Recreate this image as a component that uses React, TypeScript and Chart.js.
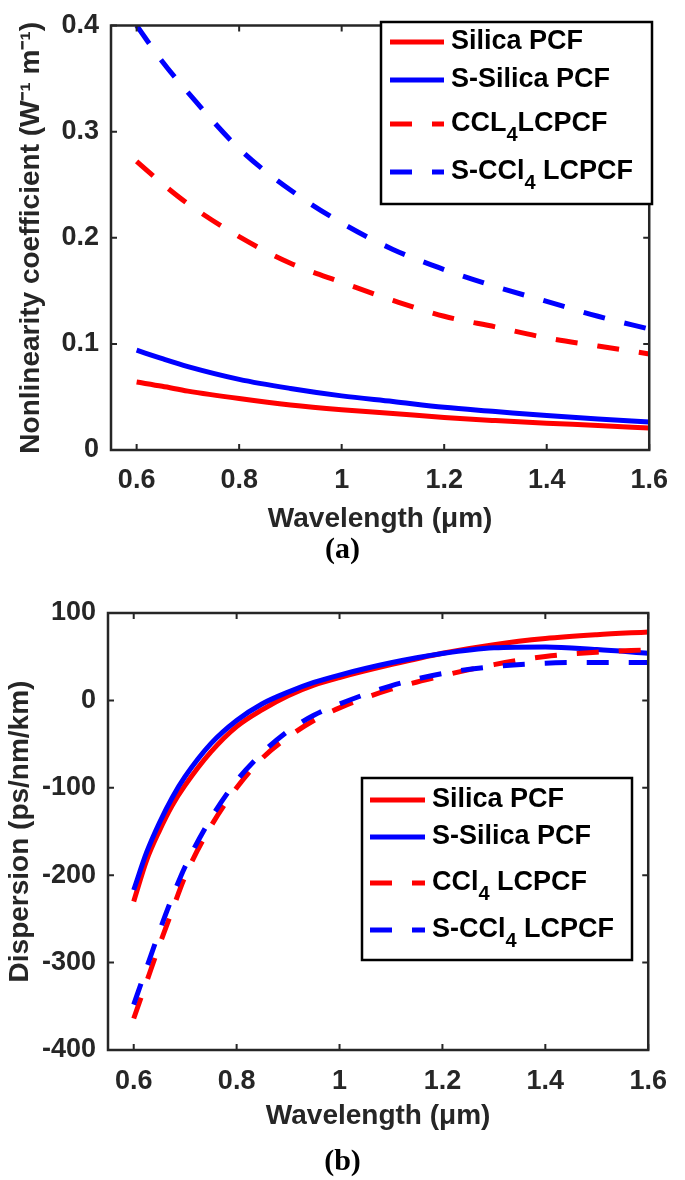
import React, { useEffect, useRef } from "react";
import { Chart, registerables } from "chart.js";

Chart.register(...registerables);

// ---------------- Data: panel (a) nonlinearity coefficient ----------------
const NL_WAVELENGTH = [0.6, 0.65, 0.7, 0.8, 0.9, 1.0, 1.1, 1.2, 1.3, 1.4, 1.5, 1.6];
const NL_SILICA = [0.064, 0.06, 0.0555, 0.0485, 0.0425, 0.038, 0.0344, 0.0306, 0.0277, 0.0252, 0.0232, 0.0207];
const NL_S_SILICA = [0.094, 0.086, 0.0786, 0.0666, 0.058, 0.051, 0.0457, 0.0402, 0.0363, 0.0324, 0.0293, 0.0263];
const NL_CCL4 = [0.272, 0.251, 0.232, 0.201, 0.176, 0.158, 0.141, 0.126, 0.116, 0.1056, 0.098, 0.0905];
const NL_S_CCL4 = [0.4, 0.366, 0.337, 0.284, 0.245, 0.214, 0.189, 0.17, 0.154, 0.14, 0.126, 0.114];
const NL_LABELS = ["Silica PCF", "S-Silica PCF", "CCL₄LCPCF", "S-CCl₄ LCPCF"];
const NL_Y_TICKS = [0, 0.1, 0.2, 0.3, 0.4];
const NL_Y_TICK_LABELS = ["0", "0.1", "0.2", "0.3", "0.4"];

// ---------------- Data: panel (b) dispersion ----------------
const D_WAVELENGTH = [0.6, 0.625, 0.65, 0.675, 0.7, 0.75, 0.8, 0.85, 0.9, 0.95, 1.0, 1.1, 1.2, 1.3, 1.4, 1.5, 1.6];
const D_SILICA = [-230, -183, -149, -120, -97, -59, -30, -10.5, 5.4, 17.5, 26.2, 40.9, 54, 63.8, 70.7, 75.1, 78.3];
const D_S_SILICA = [-217, -174, -140, -111, -87, -49.5, -23, -3.8, 9.5, 20.5, 29, 43, 53.6, 60.2, 61.2, 58.2, 54];
const D_CCL4 = [-364, -322, -280, -240, -201, -144, -100, -66, -42, -23, -8.6, 12.8, 28.2, 40.9, 50.3, 55.2, 57.9];
const D_S_CCL4 = [-348, -306, -264, -225, -190, -135, -92, -60, -35, -17, -4.1, 16.7, 30.8, 38.8, 42.6, 43.4, 43.4];
const D_LABELS = ["Silica PCF", "S-Silica PCF", "CCl₄ LCPCF", "S-CCl₄ LCPCF"];
const D_Y_TICKS = [-400, -300, -200, -100, 0, 100];
const D_Y_TICK_LABELS = ["-400", "-300", "-200", "-100", "0", "100"];

// ---------------- Shared axis ticks ----------------
const X_TICKS = [0.6, 0.8, 1.0, 1.2, 1.4, 1.6];
const X_TICK_LABELS = ["0.6", "0.8", "1", "1.2", "1.4", "1.6"];

const FONT = '"Liberation Sans", Arial, Helvetica, sans-serif';
const AXIS_COLOR = "#262626";
const RED = "#ff0000";
const BLUE = "#0000ff";
const DASH = [22, 20];

const framePlugin = {
  id: "matlabFrame",
  afterDatasetsDraw(chart: any) {
    const { ctx, chartArea } = chart;
    const { left, right, top, bottom } = chartArea;
    const xs = chart.scales.x;
    const ys = chart.scales.y;
    const tl = 6;
    ctx.save();
    ctx.strokeStyle = AXIS_COLOR;
    ctx.lineWidth = 2;
    ctx.beginPath();
    xs.ticks.forEach((t: any) => {
      const p = xs.getPixelForValue(t.value);
      ctx.moveTo(p, bottom);
      ctx.lineTo(p, bottom - tl);
      ctx.moveTo(p, top);
      ctx.lineTo(p, top + tl);
    });
    ys.ticks.forEach((t: any) => {
      const p = ys.getPixelForValue(t.value);
      ctx.moveTo(left, p);
      ctx.lineTo(left + tl, p);
      ctx.moveTo(right, p);
      ctx.lineTo(right - tl, p);
    });
    ctx.stroke();
    ctx.lineWidth = 2.5;
    ctx.strokeRect(left, top, right - left, bottom - top);
    ctx.restore();
  },
};

function drawRichLabel(ctx: CanvasRenderingContext2D, text: string, x: number, y: number) {
  const main = `bold 27px ${FONT}`;
  const sub = `bold 20px ${FONT}`;
  const parts = text.split("₄");
  let cx = x;
  parts.forEach((p, i) => {
    ctx.font = main;
    ctx.fillText(p, cx, y);
    cx += ctx.measureText(p).width;
    if (i < parts.length - 1) {
      ctx.font = sub;
      ctx.fillText("4", cx, y + 11);
      cx += ctx.measureText("4").width;
    }
  });
}

const boxLegendPlugin = {
  id: "boxLegend",
  afterDraw(chart: any, _args: any, opts: any) {
    const { ctx } = chart;
    const { left, top, right, bottom, rows, x1, x2, textX } = opts;
    ctx.save();
    ctx.fillStyle = "#ffffff";
    ctx.fillRect(left, top, right - left, bottom - top);
    ctx.strokeStyle = "#000000";
    ctx.lineWidth = 2.5;
    ctx.strokeRect(left, top, right - left, bottom - top);
    chart.data.datasets.forEach((ds: any, i: number) => {
      const y = rows[i];
      ctx.strokeStyle = ds.borderColor;
      ctx.lineWidth = ds.borderWidth;
      ctx.lineCap = "butt";
      ctx.setLineDash(ds.borderDash || []);
      ctx.beginPath();
      ctx.moveTo(x1, y);
      ctx.lineTo(x2, y);
      ctx.stroke();
      ctx.setLineDash([]);
      ctx.fillStyle = "#000000";
      ctx.textAlign = "left";
      ctx.textBaseline = "middle";
      drawRichLabel(ctx, ds.label, textX, y);
    });
    ctx.restore();
  },
};

type Series = { label: string; values: number[]; color: string; dashed: boolean };

function makeConfig(p: {
  x: number[];
  series: Series[];
  yMin: number;
  yMax: number;
  yTicks: number[];
  yTickLabels: string[];
  yTitle: string;
  yTitlePad: number;
  padding: any;
  xHeight: number;
  yWidth: number;
  xTickPad: number;
  legend: any;
}): any {
  const tickFont = { family: FONT, size: 27, weight: "bold" as const, lineHeight: 1 };
  const titleFont = { family: FONT, size: 28, weight: "bold" as const };
  return {
    type: "line",
    data: {
      datasets: p.series.map((s, i) => ({
        label: s.label,
        data: p.x.map((xv, j) => ({ x: xv, y: s.values[j] })),
        borderColor: s.color,
        backgroundColor: s.color,
        borderWidth: 5,
        borderDash: s.dashed ? DASH : [],
        borderCapStyle: "butt",
        pointRadius: 0,
        fill: false,
        cubicInterpolationMode: "monotone",
        order: p.series.length - i,
      })),
    },
    options: {
      responsive: false,
      animation: false,
      layout: { padding: p.padding },
      plugins: {
        legend: { display: false },
        tooltip: { enabled: false },
        boxLegend: p.legend,
      },
      scales: {
        x: {
          type: "linear",
          min: 0.55,
          max: 1.6,
          afterBuildTicks: (s: any) => {
            s.ticks = X_TICKS.map((v) => ({ value: v }));
          },
          afterFit: (s: any) => {
            s.height = p.xHeight;
          },
          grid: { display: false, drawTicks: false },
          border: { display: false },
          ticks: {
            autoSkip: false,
            maxRotation: 0,
            padding: p.xTickPad,
            color: AXIS_COLOR,
            font: tickFont,
            callback: (_v: any, i: number) => X_TICK_LABELS[i],
          },
          title: {
            display: true,
            text: "Wavelength (μm)",
            color: AXIS_COLOR,
            font: titleFont,
            padding: { top: 0, bottom: 0 },
          },
        },
        y: {
          type: "linear",
          min: p.yMin,
          max: p.yMax,
          afterBuildTicks: (s: any) => {
            s.ticks = p.yTicks.map((v) => ({ value: v }));
          },
          afterFit: (s: any) => {
            s.width = p.yWidth;
          },
          grid: { display: false, drawTicks: false },
          border: { display: false },
          ticks: {
            autoSkip: false,
            padding: 12,
            color: AXIS_COLOR,
            font: tickFont,
            callback: (_v: any, i: number) => p.yTickLabels[i],
          },
          title: {
            display: true,
            text: p.yTitle,
            color: AXIS_COLOR,
            font: titleFont,
            padding: { top: p.yTitlePad, bottom: 0 },
          },
        },
      },
    },
    plugins: [framePlugin, boxLegendPlugin],
  };
}

export default function App() {
  const refA = useRef<HTMLCanvasElement | null>(null);
  const refB = useRef<HTMLCanvasElement | null>(null);

  useEffect(() => {
    const chartA = new Chart(
      refA.current as HTMLCanvasElement,
      makeConfig({
        x: NL_WAVELENGTH,
        series: [
          { label: NL_LABELS[0], values: NL_SILICA, color: RED, dashed: false },
          { label: NL_LABELS[1], values: NL_S_SILICA, color: BLUE, dashed: false },
          { label: NL_LABELS[2], values: NL_CCL4, color: RED, dashed: true },
          { label: NL_LABELS[3], values: NL_S_CCL4, color: BLUE, dashed: true },
        ],
        yMin: 0,
        yMax: 0.4,
        yTicks: NL_Y_TICKS,
        yTickLabels: NL_Y_TICK_LABELS,
        yTitle: "Nonlinearity coefficient (W⁻¹ m⁻¹)",
        yTitlePad: 14,
        padding: { left: 0, top: 15, right: 26, bottom: 24 },
        xHeight: 86,
        yWidth: 111,
        xTickPad: 17,
        legend: { left: 381, top: 22, right: 652, bottom: 204, rows: [42, 80, 124, 172], x1: 390, x2: 444, textX: 451 },
      })
    );
    const chartB = new Chart(
      refB.current as HTMLCanvasElement,
      makeConfig({
        x: D_WAVELENGTH,
        series: [
          { label: D_LABELS[0], values: D_SILICA, color: RED, dashed: false },
          { label: D_LABELS[1], values: D_S_SILICA, color: BLUE, dashed: false },
          { label: D_LABELS[2], values: D_CCL4, color: RED, dashed: true },
          { label: D_LABELS[3], values: D_S_CCL4, color: BLUE, dashed: true },
        ],
        yMin: -400,
        yMax: 100,
        yTicks: D_Y_TICKS,
        yTickLabels: D_Y_TICK_LABELS,
        yTitle: "Dispersion (ps/nm/km)",
        yTitlePad: 3,
        padding: { left: 0, top: 53, right: 34, bottom: 47 },
        xHeight: 83,
        yWidth: 108,
        xTickPad: 18,
        legend: { left: 362, top: 218, right: 632, bottom: 400, rows: [240, 277, 323, 370], x1: 370, x2: 425, textX: 432 },
      })
    );
    return () => {
      chartA.destroy();
      chartB.destroy();
    };
  }, []);

  const caption: React.CSSProperties = {
    position: "absolute",
    left: 0,
    width: 685,
    textAlign: "center",
    fontFamily: '"Liberation Serif", "Times New Roman", serif',
    fontWeight: "bold",
    fontSize: 30,
    lineHeight: "36px",
    color: "#000",
  };

  return (
    <div style={{ position: "absolute", left: 0, top: 0, width: 685, height: 1180, background: "#ffffff" }}>
      <canvas ref={refA} width={685} height={560} style={{ position: "absolute", left: 0, top: 0, display: "block" }} />
      <div style={{ ...caption, top: 530 }}>(a)</div>
      <canvas ref={refB} width={685} height={620} style={{ position: "absolute", left: 0, top: 560, display: "block" }} />
      <div style={{ ...caption, top: 1142 }}>(b)</div>
    </div>
  );
}
